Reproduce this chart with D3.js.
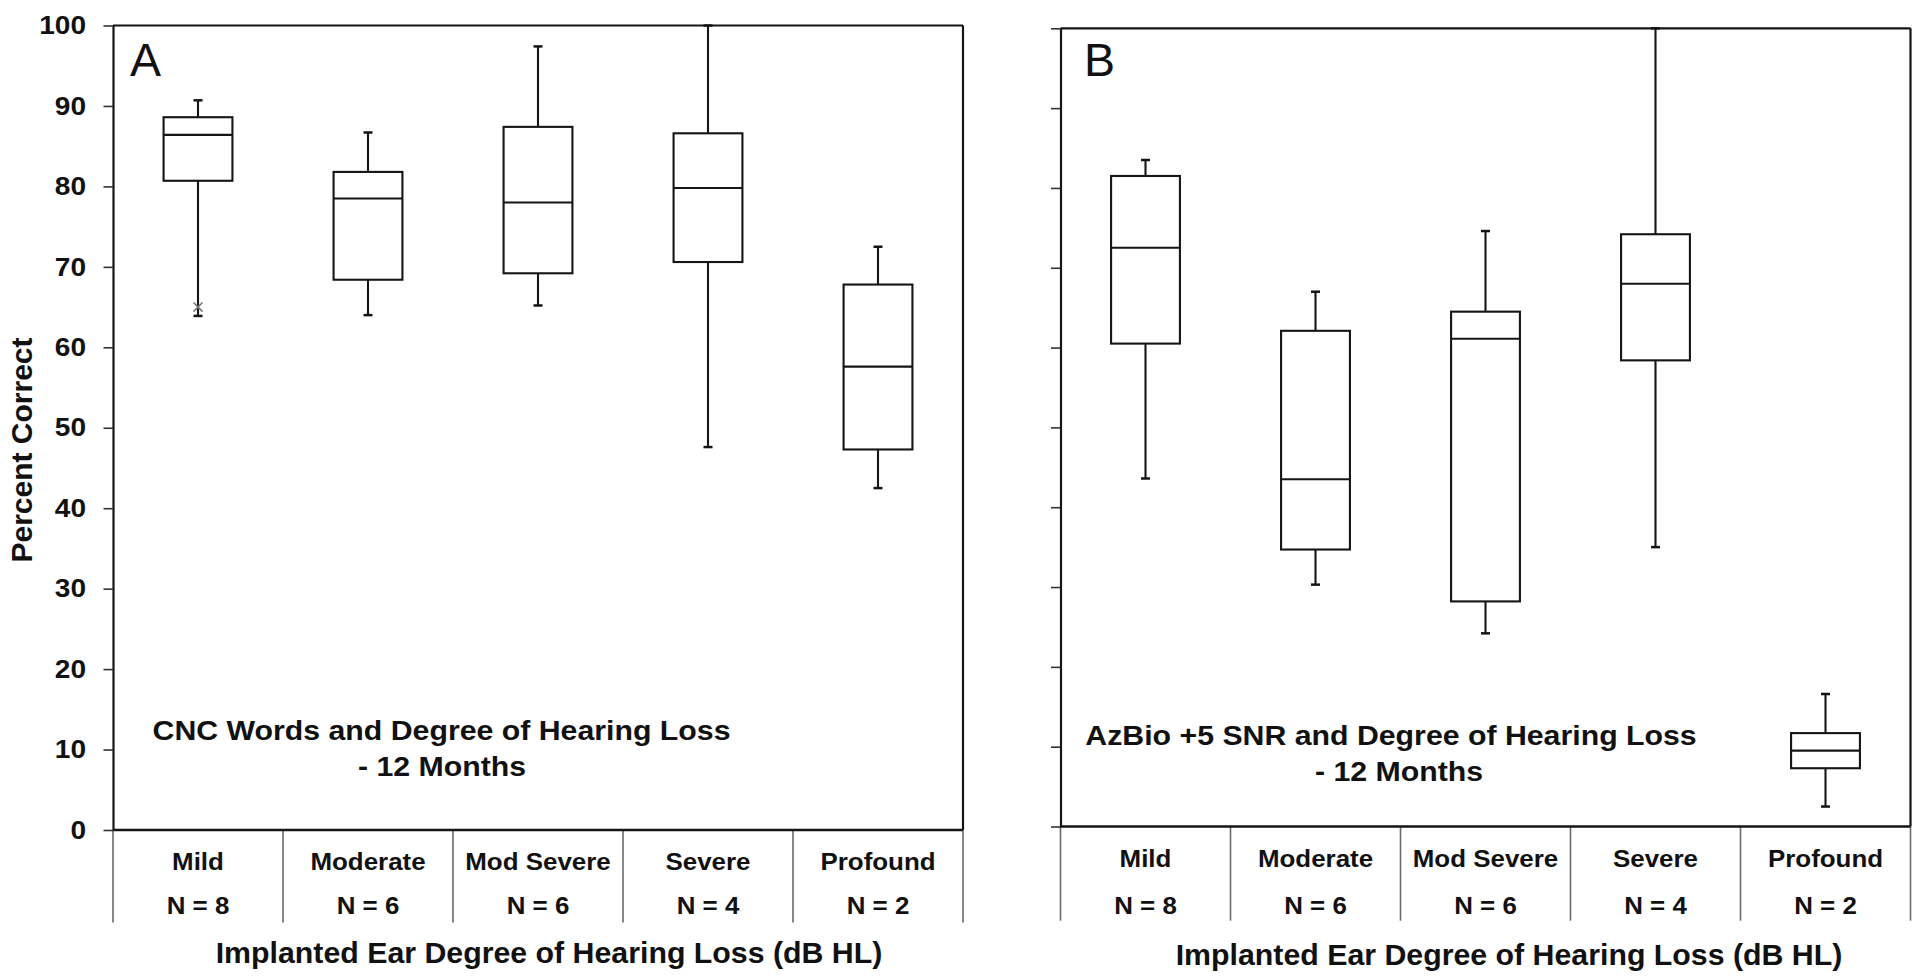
<!DOCTYPE html>
<html><head><meta charset="utf-8">
<script src="https://cdn.jsdelivr.net/npm/d3@7"></script>
<style>
body{margin:0;background:#fff;}
svg{display:block;}
text{font-family:Arial,"Liberation Sans",sans-serif;fill:#111;}
</style>
</head><body>
<svg id="chart" width="1920" height="979"></svg>
<script>
// ---------------- DATA ----------------
const categories = ["Mild", "Moderate", "Mod Severe", "Severe", "Profound"];
const groupSizes = ["N = 8", "N = 6", "N = 6", "N = 4", "N = 2"];
const yTicks = [0, 10, 20, 30, 40, 50, 60, 70, 80, 90, 100];

// Panel A: CNC Words
const cncMin    = [63.9, 64.0, 65.2, 47.6, 42.5];
const cncQ1     = [80.7, 68.4, 69.2, 70.6, 47.3];
const cncMedian = [86.4, 78.5, 78.0, 79.8, 57.6];
const cncQ3     = [88.6, 81.8, 87.4, 86.6, 67.8];
const cncMax    = [90.7, 86.7, 97.4, 100, 72.5];
const cncMarkers = [{category: "Mild", value: 65.0}];

// Panel B: AzBio +5 SNR
const azMin    = [43.6, 30.3, 24.2, 35.0, 2.5];
const azQ1     = [60.5, 34.7, 28.2, 58.4, 7.3];
const azMedian = [72.5, 43.5, 61.1, 68.0, 9.5];
const azQ3     = [81.5, 62.1, 64.5, 74.2, 11.7];
const azMax    = [83.5, 67.0, 74.6, 100, 16.6];
const azMarkers = [];

const yTitle = "Percent Correct";
const xTitle = "Implanted Ear Degree of Hearing Loss (dB HL)";
const cncTitle = ["CNC Words and Degree of Hearing Loss", "- 12 Months"];
const azTitle = ["AzBio +5 SNR and Degree of Hearing Loss", "- 12 Months"];

// ---------------- LAYOUT ----------------
const panels = [
  {letter: "A", left: 113, right: 963, top: 25.5, bottom: 830, divBottom: 922.5,
   catY: 870, nY: 914, showLabels: true,
   min: cncMin, q1: cncQ1, med: cncMedian, q3: cncQ3, max: cncMax, markers: cncMarkers,
   title: cncTitle, titlePos: [[441.5, 740], [442, 776]],
   xTitlePos: [549, 963], letterPos: [130, 76]},
  {letter: "B", left: 1060.5, right: 1910.5, top: 28.3, bottom: 826.5, divBottom: 920.7,
   catY: 867, nY: 914, showLabels: false,
   min: azMin, q1: azQ1, med: azMedian, q3: azQ3, max: azMax, markers: azMarkers,
   title: azTitle, titlePos: [[1391, 745], [1399, 780.5]],
   xTitlePos: [1509, 965], letterPos: [1084, 76]}
];

const svg = d3.select("#chart");
const ink = "#151515";

function sText(g, x, y, str, size, sx, weight) {
  return g.append("text")
    .attr("transform", `translate(${x},${y}) scale(${sx},1)`)
    .attr("text-anchor", "middle")
    .style("font-size", size + "px")
    .style("font-weight", weight || "bold")
    .text(str);
}

function drawPanel(p) {
  const g = svg.append("g");
  const x = d3.scaleBand().domain(categories).range([p.left, p.right]).padding(0);
  const y = d3.scaleLinear().domain([0, 100]).range([p.bottom, p.top]);
  const bw = x.bandwidth() * 0.405;
  const capW = 9;

  // dividers under x axis
  const bounds = categories.map(c => x(c)).concat([p.right]);
  g.selectAll(".div").data(bounds).enter().append("line")
    .attr("x1", d => d).attr("x2", d => d)
    .attr("y1", y(0)).attr("y2", p.divBottom)
    .attr("stroke", "#6a6a6a").attr("stroke-width", 1.6);

  // frame top and right
  g.append("line").attr("x1", p.left).attr("x2", p.right)
    .attr("y1", y(100)).attr("y2", y(100))
    .attr("stroke", ink).attr("stroke-width", 2.2);
  g.append("line").attr("x1", p.right).attr("x2", p.right)
    .attr("y1", y(100)).attr("y2", y(0))
    .attr("stroke", ink).attr("stroke-width", 2.2);

  // y axis
  const axis = d3.axisLeft(y).tickValues(yTicks).tickSize(9.5).tickSizeOuter(0)
    .tickPadding(17.5).tickFormat(p.showLabels ? d3.format("d") : () => "");
  const ax = g.append("g").attr("transform", `translate(${p.left},0)`).call(axis);
  ax.select(".domain").attr("stroke", ink).attr("stroke-width", 2.2);
  ax.selectAll(".tick line").attr("stroke", "#333").attr("stroke-width", 1.6);
  const tsx = 1.1;
  ax.selectAll(".tick text")
    .style("font-size", "25.5px").style("font-weight", "bold")
    .style("font-family", 'Arial,"Liberation Sans",sans-serif').attr("fill", "#111")
    .attr("x", -27 / tsx).attr("transform", `scale(${tsx},1)`);

  // bottom axis line
  g.append("line").attr("x1", p.left).attr("x2", p.right)
    .attr("y1", y(0)).attr("y2", y(0))
    .attr("stroke", ink).attr("stroke-width", 2.6);

  // boxes
  const stats = categories.map((c, i) => ({c, min: p.min[i], q1: p.q1[i], med: p.med[i], q3: p.q3[i], max: p.max[i]}));
  const bx = g.selectAll(".box").data(stats).enter().append("g")
    .attr("transform", d => `translate(${x(d.c) + x.bandwidth() / 2},0)`);
  bx.append("line").attr("x1", 0).attr("x2", 0)
    .attr("y1", d => y(d.min)).attr("y2", d => y(d.q1))
    .attr("stroke", ink).attr("stroke-width", 2.1);
  bx.append("line").attr("x1", 0).attr("x2", 0)
    .attr("y1", d => y(d.q3)).attr("y2", d => y(d.max))
    .attr("stroke", ink).attr("stroke-width", 2.1);
  bx.append("line").attr("x1", -capW / 2).attr("x2", capW / 2)
    .attr("y1", d => y(d.min)).attr("y2", d => y(d.min))
    .attr("stroke", ink).attr("stroke-width", 2.5);
  bx.append("line").attr("x1", -capW / 2).attr("x2", capW / 2)
    .attr("y1", d => y(d.max)).attr("y2", d => y(d.max))
    .attr("stroke", ink).attr("stroke-width", 2.5);
  bx.append("rect").attr("x", -bw / 2).attr("width", bw)
    .attr("y", d => y(d.q3)).attr("height", d => y(d.q1) - y(d.q3))
    .attr("fill", "#fff").attr("stroke", ink).attr("stroke-width", 2.1);
  bx.append("line").attr("x1", -bw / 2).attr("x2", bw / 2)
    .attr("y1", d => y(d.med)).attr("y2", d => y(d.med))
    .attr("stroke", ink).attr("stroke-width", 2.1);

  // markers (x symbols)
  g.selectAll(".mk").data(p.markers).enter().append("path")
    .attr("transform", d => `translate(${x(d.category) + x.bandwidth() / 2},${y(d.value)})`)
    .attr("d", d3.symbol(d3.symbolX, 55))
    .attr("fill", "none").attr("stroke", "#7a7a7a").attr("stroke-width", 1.6);

  // category labels
  categories.forEach((c, i) => {
    const cx = x(c) + x.bandwidth() / 2;
    sText(g, cx, p.catY, c, 24, 1.08);
    sText(g, cx, p.nY, groupSizes[i], 24, 1.08);
  });

  // chart title inside
  sText(g, p.titlePos[0][0], p.titlePos[0][1], p.title[0], 26.8, 1.13);
  sText(g, p.titlePos[1][0], p.titlePos[1][1], p.title[1], 26.8, 1.13);

  // x axis title
  sText(g, p.xTitlePos[0], p.xTitlePos[1], xTitle, 30.3, 1.0);

  // panel letter
  g.append("text").attr("x", p.letterPos[0]).attr("y", p.letterPos[1])
    .style("font-size", "46.5px").style("font-weight", "normal").text(p.letter);
}

panels.forEach(drawPanel);

// y axis title
svg.append("text")
  .attr("transform", "translate(31.5,450) rotate(-90)")
  .attr("text-anchor", "middle")
  .style("font-size", "30px").style("font-weight", "bold")
  .text(yTitle);
</script>
</body></html>
